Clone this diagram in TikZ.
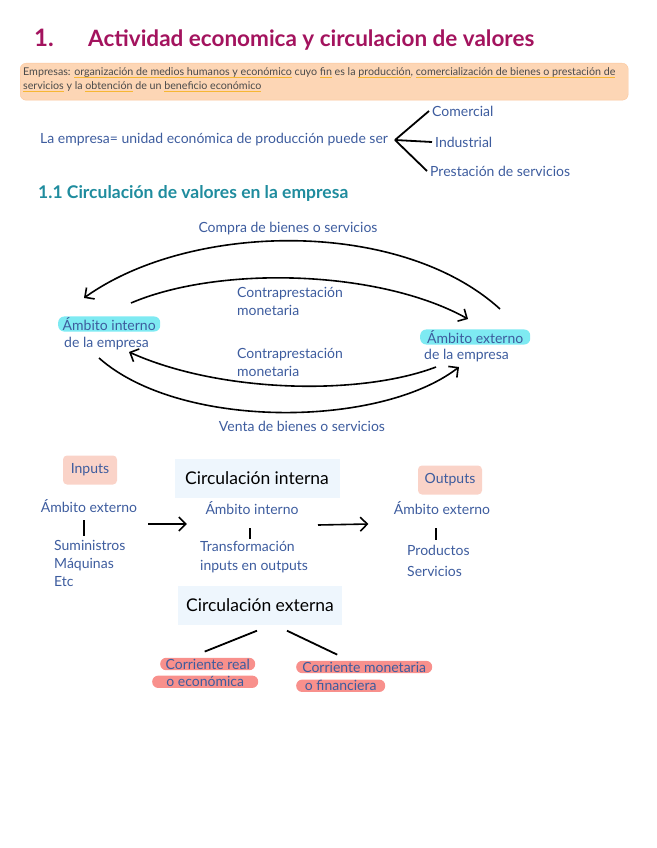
\documentclass[tikz,border=0pt]{standalone}
\usepackage{fontspec}
\setmainfont{Lato}
\usetikzlibrary{arrows.meta, positioning, calc}
\definecolor{tituloC}{HTML}{A3135E}
\definecolor{seccionC}{HTML}{1F8C9E}
\definecolor{azulT}{HTML}{3D5C9E}
\definecolor{grisT}{HTML}{4A4A4A}
\definecolor{durazno}{HTML}{FDD6B5}
\definecolor{duraznoB}{HTML}{FBC79C}
\definecolor{naranjaU}{HTML}{F7B733}
\definecolor{cianH}{HTML}{7EEAF2}
\definecolor{rojoH}{HTML}{F8908C}
\definecolor{rosaC}{HTML}{FAD3C8}
\definecolor{celesteC}{HTML}{EEF6FD}
\newsavebox{\subrcaja}
\newcommand{\subr}[1]{\sbox{\subrcaja}{#1}\rlap{\color{naranjaU}\rule[-2.4pt]{\wd\subrcaja}{0.8pt}}\usebox{\subrcaja}}

\begin{document}
\begin{tikzpicture}[x=1pt, y=-1pt,
        font=\fontsize{14}{18}\selectfont, node distance=4pt,
        txt/.style={text=azulT, inner sep=1pt, anchor=west},
        mark1/.style={fill=cianH, rounded corners=6pt, inner xsep=4pt, inner ysep=1pt, anchor=west, text=azulT},
        mark2/.style={fill=rojoH, rounded corners=6pt, inner xsep=4pt, inner ysep=1pt, anchor=west, text=azulT},
        caja/.style={fill=rosaC, rounded corners=4pt, minimum height=29pt, inner xsep=6pt, text=azulT},
        titbox/.style={fill=celesteC, minimum height=39pt, inner xsep=8pt, font=\fontsize{17.5}{20}\selectfont, text=black},
        arr/.style={-{Straight Barb[length=7pt,width=14pt]}, line width=1.6pt, black},
        raya/.style={line width=1.8pt, black}
    ]
        \useasboundingbox (0,0) rectangle (656,848);

        % titulo
        \node[anchor=west, text=tituloC, font=\fontsize{24}{26}\selectfont\bfseries, inner sep=0pt] (num) at (34,38) {1.};
        \node[anchor=west, text=tituloC, font=\fontsize{22.5}{24}\selectfont\bfseries, inner sep=0pt] (tit) at (88,40) {Actividad economica y circulacion de valores};

        % definicion
        \node[fill=durazno, draw=duraznoB, rounded corners=6pt, minimum width=608pt, minimum height=37pt, anchor=north west, inner sep=0pt] (defbox) at (20,63) {};
        \node[anchor=north west, text=grisT, font=\fontsize{10.7}{14}\selectfont, align=left, inner sep=0pt] (deftxt) at (23,67)
            {Empresas: \subr{organización de medios humanos y económico} cuyo \subr{fin} es la \subr{producción}, \subr{comercialización de bienes o prestación de}\\
             \subr{servicios} y la \subr{obtención} de un \subr{beneficio económico}};

        % la empresa puede ser
        \node[txt] (emp) at (39,140) {La empresa= unidad económica de producción puede ser};
        \coordinate (br) at (395,140);
        \node[txt] (com) at (431,111) {Comercial};
        \node[txt] (ind) at (434,142) {Industrial};
        \node[txt] (pre) at (429,171) {Prestación de servicios};
        \draw[raya] (br) -- ($(com.west)+(-2,0)$);
        \draw[raya] (br) -- ($(ind.west)+(-2,0)$);
        \draw[raya] (br) -- ($(pre.west)+(-2,0)$);

        \node[anchor=west, text=seccionC, font=\fontsize{17.5}{20}\selectfont\bfseries, inner sep=0pt] (sec) at (38,193) {1.1 Circulación de valores en la empresa};

        % circulacion de valores
        \node[text=azulT] (compra) at (288,229) {Compra de bienes o servicios};
        \node[mark1, minimum width=102pt] (intA) at (58,324) {Ámbito interno};
        \node[txt, below=4pt of intA.south west, anchor=north west, xshift=5pt] (intB) {de la empresa};
        \node[mark1, minimum width=110pt] (extA) at (420,337) {Ámbito externo};
        \node[txt, below=3pt of extA.south west, anchor=north west, xshift=3pt] (extB) {de la empresa};
        \node[txt, align=left] (cp1) at (236,301) {Contraprestación\\monetaria};
        \node[txt, align=left] (cp2) at (236,362) {Contraprestación\\monetaria};
        \node[text=azulT] (venta) at (302,426) {Venta de bienes o servicios};

        \coordinate (a1) at (500,309);
        \coordinate (a2) at (84,298);
        \coordinate (b1) at (131,303);
        \coordinate (b2) at (468,319);
        \coordinate (c1) at (436,367);
        \coordinate (c2) at (129,352);
        \coordinate (d1) at (99,358);
        \coordinate (d2) at (459,367);
        \draw[arr] (a1) .. controls (400,218) and (190,222) .. (a2);
        \draw[arr] (b1) .. controls (220,265) and (380,270) .. (b2);
        \draw[arr] (c1) .. controls (360,396) and (220,393) .. (c2);
        \draw[arr] (d1) .. controls (180,430) and (380,428) .. (d2);

        % inputs / outputs
        \node[caja, minimum width=54pt] (inp) at (90,470) {Inputs};
        \node[titbox, minimum width=165pt] (cint) at (257,478) {Circulación interna};
        \node[caja, minimum width=64pt] (outp) at (450,480) {Outputs};

        \node[text=azulT] (ae1) at (89,506) {Ámbito externo};
        \node[text=azulT] (ai) at (252,508) {Ámbito interno};
        \node[text=azulT] (ae2) at (442,508) {Ámbito externo};

        \node[txt, align=left] (sum) at (53,563) {Suministros\\Máquinas\\Etc};
        \node[txt, align=left, font=\fontsize{14}{19}\selectfont] (trf) at (199,557) {Transformación\\inputs en outputs};
        \node[txt, align=left, font=\fontsize{14}{21}\selectfont] (prod) at (406,561) {Productos\\Servicios};

        \draw[raya] ($(ae1.south)+(-5,4)$) -- ($(ae1.south)+(-5,20)$);
        \draw[raya] ($(ai.south)+(-2,10)$) -- ($(ai.south)+(-2,21)$);
        \draw[raya] ($(ae2.south)+(-6,10)$) -- ($(ae2.south)+(-6,22)$);

        \coordinate (f1) at (148,524);
        \coordinate (g1) at (318,525);
        \draw[arr] (f1) -- ($(ai.west)+(-15,16)$);
        \draw[arr] (g1) -- ($(ae2.west)+(-22,16)$);

        % circulacion externa
        \node[titbox, minimum width=163pt] (cext) at (260,605) {Circulación externa};
        \node[mark2, minimum width=95pt] (realA) at (160,664) {Corriente real};
        \node[mark2, minimum width=106pt, anchor=north west] (realB) at ($(realA.south west)+(-8,5)$) {o económica};
        \node[mark2, minimum width=136pt] (monA) at (296,667) {Corriente monetaria};
        \node[mark2, minimum width=89pt, anchor=north west] (monB) at ($(monA.south west)+(0,6)$) {o financiera};
        \draw[raya] ($(cext.south)+(-3,6)$) -- ($(realA.north)+(-3,-6)$);
        \draw[raya] ($(cext.south)+(27,6)$) -- ($(monA.north)+(-27,-6)$);
    \end{tikzpicture}
\end{document}
